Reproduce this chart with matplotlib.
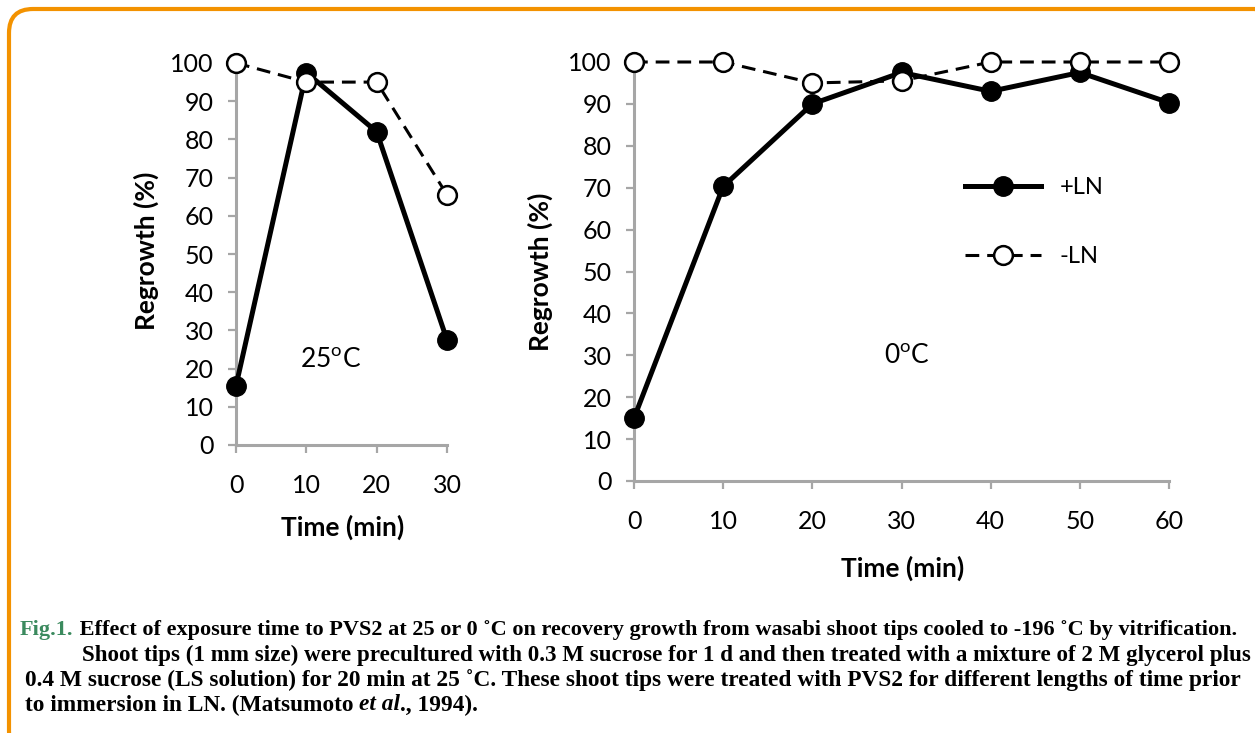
import matplotlib
matplotlib.use("Agg")
import matplotlib.pyplot as plt
from matplotlib.patches import FancyBboxPatch
from matplotlib.transforms import IdentityTransform

plt.rcParams['font.family'] = ['Lato', 'DejaVu Sans']
plt.rcParams['mathtext.fontset'] = 'custom'
plt.rcParams['mathtext.rm'] = 'Lato'

# data
time_25 = [0, 10, 20, 30]
plus_ln_25 = [15.5, 97.5, 82, 27.5]
minus_ln_25 = [100, 95, 95, 65.5]

time_0 = [0, 10, 20, 30, 40, 50, 60]
plus_ln_0 = [15, 70.3, 90, 97.5, 93, 97.5, 90.3]
minus_ln_0 = [100, 100, 95, 95.5, 100, 100, 100]

yticks = list(range(0, 101, 10))

# caption, one list of (text, style) pieces per line
caption = [
    [('Fig.1.', 'green'),
     (' Effect of exposure time to PVS2 at 25 or 0 \u02daC on recovery growth from wasabi shoot tips cooled to -196 \u02daC by vitrification.', '')],
    [('Shoot tips (1 mm size) were precultured with 0.3 M sucrose for 1 d and then treated with a mixture of 2 M glycerol plus', '')],
    [('0.4 M sucrose (LS solution) for 20 min at 25 \u02daC. These shoot tips were treated with PVS2 for different lengths of time prior', '')],
    [('to immersion in LN. (Matsumoto ', ''), ('et al', 'italic'), ('., 1994).', '')],
]
# left edge, right edge (None = not stretched), centre y of each line in pixels
caption_place = [(20, 1238, 630), (82, 1250, 655), (25, 1248, 680), (25, None, 705)]

W, H = 1255, 733
fig = plt.figure(figsize=(W / 100, H / 100), dpi=100)

grey = '#a6a6a6'


def setup(ax, xticks):
    for s in ['top', 'right']:
        ax.spines[s].set_visible(False)
    for s in ['left', 'bottom']:
        ax.spines[s].set_color(grey)
        ax.spines[s].set_linewidth(2.2)
    ax.set_xlim(xticks[0], xticks[-1])
    ax.set_ylim(0, 100)
    ax.set_xticks(xticks)
    ax.set_yticks(yticks)
    ax.tick_params(axis='both', direction='out', length=6, width=1.6,
                   color=grey, labelsize=18)
    ax.tick_params(axis='x', pad=15)
    ax.tick_params(axis='y', pad=10)
    ax.patch.set_visible(False)


def draw(ax, t, plus, minus):
    ax.plot(t, plus, '-o', color='black', lw=3.6, ms=14, clip_on=False,
            zorder=3, label='+LN')
    ax.plot(t, minus, linestyle=(0, (4.5, 2.6)), marker='o', color='black',
            lw=2.2, ms=13.5, mfc='white', mec='black', mew=1.8,
            clip_on=False, zorder=4, label='-LN')


# left panel, 25 C
ax1 = fig.add_axes([236 / W, 1 - 445 / H, 211 / W, 382 / H])
setup(ax1, time_25)
draw(ax1, time_25, plus_ln_25, minus_ln_25)
ax1.set_xlabel('Time (min)', fontsize=19, fontweight='bold')
ax1.set_ylabel('Regrowth (%)', fontsize=19, fontweight='bold')
ax1.xaxis.set_label_coords(0.507, -0.215)
ax1.xaxis.label.set_va('center')
ax1.yaxis.set_label_coords(-0.427, 0.508)
ax1.yaxis.label.set_va('center')
ax1.text(9.1, 22, r'25$^{\rm o}$C', fontsize=19, ha='left', va='center')

# right panel, 0 C
ax2 = fig.add_axes([634 / W, 1 - 481 / H, 535 / W, 419 / H])
setup(ax2, time_0)
draw(ax2, time_0, plus_ln_0, minus_ln_0)
ax2.set_xlabel('Time (min)', fontsize=19, fontweight='bold')
ax2.set_ylabel('Regrowth (%)', fontsize=19, fontweight='bold')
ax2.xaxis.set_label_coords(0.503, -0.208)
ax2.xaxis.label.set_va('center')
ax2.yaxis.set_label_coords(-0.176, 0.499)
ax2.yaxis.label.set_va('center')
ax2.text(28.0, 29.6, r'0$^{\rm o}$C', fontsize=19, ha='left', va='center')
ax2.legend(loc='center left', bbox_to_anchor=(0.619, 0.618), frameon=False,
           fontsize=17, handlelength=3.2, handletextpad=0.8,
           labelspacing=2.05, borderpad=0, borderaxespad=0)

# orange rounded frame
frame = FancyBboxPatch((9, -22), 1270, 746, boxstyle='round,pad=0,rounding_size=24',
                       transform=IdentityTransform(), fill=False,
                       edgecolor='#f39200', linewidth=3)
fig.add_artist(frame)

# caption: each line sized to span the same width as in the figure
fig.canvas.draw()
r = fig.canvas.get_renderer()
styles = {'': {}, 'italic': {'style': 'italic'}, 'green': {'color': '#3b8a5e'}}


def write_line(pieces, x0, y, size):
    x = x0
    arts = []
    for txt, st in pieces:
        t = fig.text(x / W, 1 - y / H, txt, family=['Liberation Serif', 'DejaVu Serif'],
                     fontweight='bold', fontsize=size, va='center', **styles[st])
        x += t.get_window_extent(r).width
        arts.append(t)
    return x - x0, arts


last_size = 16
for pieces, (x0, x1, y) in zip(caption, caption_place):
    size = last_size
    if x1 is not None:
        width, arts = write_line(pieces, x0, y, 16)
        for a in arts:
            a.remove()
        size = 16 * (x1 - x0) / width
        last_size = size
    write_line(pieces, x0, y, size)

fig.savefig('out.png', dpi=100)
